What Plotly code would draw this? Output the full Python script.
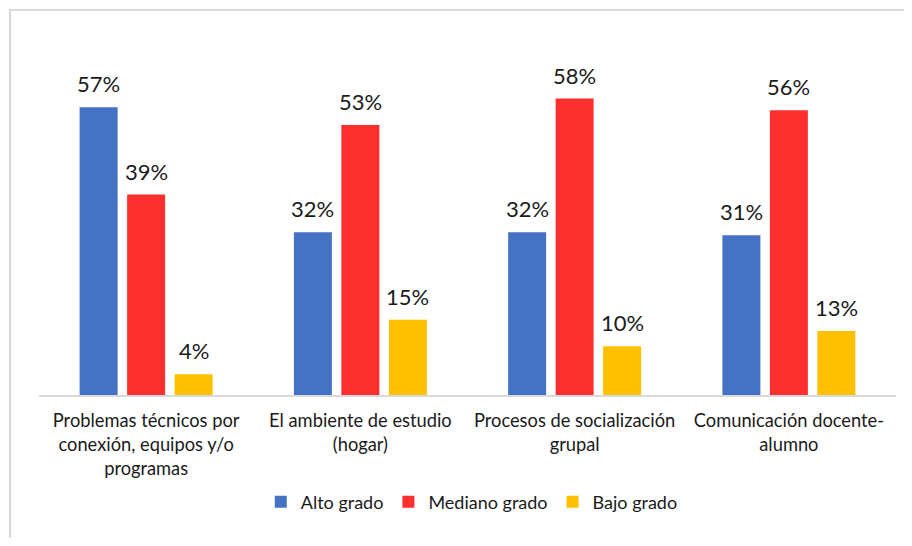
import plotly.graph_objects as go

categories = [
    "Problemas técnicos por<br>conexión, equipos y/o<br>programas",
    "El ambiente de estudio<br>(hogar)",
    "Procesos de socialización<br>grupal",
    "Comunicación docente-<br>alumno",
]
series_names = ["Alto grado", "Mediano grado", "Bajo grado"]
alto = [0.566, 0.320, 0.320, 0.314]
mediano = [0.394, 0.531, 0.583, 0.560]
bajo = [0.041, 0.148, 0.096, 0.126]
colors = ["#4472C4", "#FF2F2F", "#FFC000"]

# page has an 8px body margin, so the figure is 904x530
W, H = 904, 530
ML, MR, MT, MB = 31, 16, 31, 143
BARGAP, BARGROUPGAP = 0.335, 0.20
FONT = "Lato, Carlito, 'Open Sans', sans-serif"
TXT = "#1a1a1a"

fig = go.Figure()
all_series = [alto, mediano, bajo]
for name, vals, c in zip(series_names, all_series, colors):
    fig.add_trace(go.Bar(name=name, x=categories, y=vals, marker_color=c,
                         marker_line_width=0, hoverinfo="skip"))

plot_w = W - ML - MR
plot_h = H - MT - MB
cat_w = plot_w / len(categories)
slot = cat_w * (1 - BARGAP) / 3

annotations = []
for i, vals in enumerate(all_series):
    for cat, v in zip(categories, vals):
        annotations.append(dict(
            x=cat, y=v, xref="x", yref="y", text=f"{round(v*100)}%",
            showarrow=False, yanchor="bottom", xanchor="center",
            xshift=(i - 1) * slot, yshift=8,
            font=dict(family=FONT, size=22, color=TXT)))

fig.update_layout(
    width=W, height=H,
    margin=dict(l=ML, r=MR, t=MT, b=MB),
    paper_bgcolor="white", plot_bgcolor="white",
    barmode="group", bargap=BARGAP, bargroupgap=BARGROUPGAP,
    font=dict(family=FONT, color=TXT, size=18.3),
    showlegend=True,
    legend=dict(orientation="h", x=0.505, xanchor="center",
                y=-107 / plot_h, yanchor="middle",
                font=dict(family=FONT, size=18, color=TXT),
                itemwidth=30, traceorder="normal"),
    annotations=annotations,
    shapes=[dict(type="rect", xref="paper", yref="paper",
                 x0=(2 - ML) / plot_w, x1=(W + 20 - ML) / plot_w,
                 y0=-(MB + 20) / plot_h, y1=(H - MB - 2) / plot_h,
                 line=dict(color="#D9D9D9", width=2), fillcolor="rgba(0,0,0,0)",
                 layer="below")],
)
fig.update_xaxes(showline=True, linecolor="#D9D9D9", linewidth=2,
                 ticks="outside", ticklen=8, tickcolor="rgba(0,0,0,0)",
                 tickfont=dict(family=FONT, size=18.3, color=TXT),
                 showgrid=False, zeroline=False, fixedrange=True)
fig.update_yaxes(range=[0, 0.70], visible=False, showgrid=False,
                 zeroline=False, fixedrange=True)

fig.write_html("out.html")
